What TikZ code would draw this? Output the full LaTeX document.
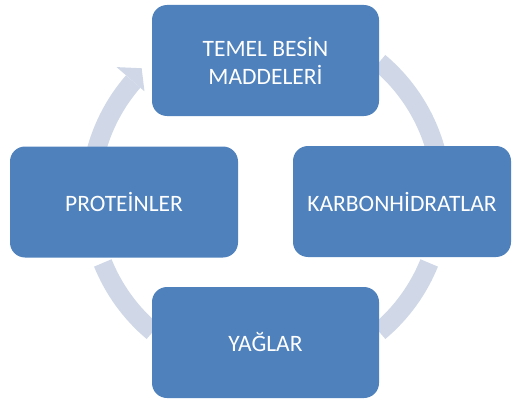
\documentclass[tikz,border=0pt]{standalone}
\usepackage{fontspec}
\setmainfont{Carlito}
\definecolor{boxblue}{HTML}{4F81BD}
\definecolor{ringgray}{HTML}{D0D8E8}

\begin{document}
\begin{tikzpicture}[x=1pt,y=1pt,
  box/.style={fill=boxblue,rounded corners=15pt,minimum width=227pt,minimum height=111pt,
    text=white,align=center,inner sep=0pt,font=\fontsize{23.5}{28}\selectfont},
  ring/.style={draw=ringgray,line width=19pt}]
\useasboundingbox (0,0) rectangle (512,400);
\coordinate (c) at (266,203);
\draw[ring] ([shift={(175:176)}]c) arc[start angle=175,end angle=139,radius=176];
\fill[ringgray] ([shift={(139:161)}]c) -- ([shift={(134:179)}]c) -- ([shift={(139:198)}]c) -- cycle;
\draw[ring] ([shift={(50:176)}]c) arc[start angle=50,end angle=10,radius=176];
\draw[ring] ([shift={(-22:176)}]c) arc[start angle=-22,end angle=-50,radius=176];
\draw[ring] ([shift={(-130:176)}]c) arc[start angle=-130,end angle=-158,radius=176];
\node[box] (besin) at (265.5,339.5) {TEMEL BESİN\\MADDELERİ};
\node[box,minimum width=218pt] (karbon) at (402,198.5) {KARBONHİDRATLAR};
\node[box,minimum width=228pt] (protein) at (124,198) {PROTEİNLER};
\node[box] (yag) at (265.5,57.5) {YAĞLAR};
\end{tikzpicture}
\end{document}
